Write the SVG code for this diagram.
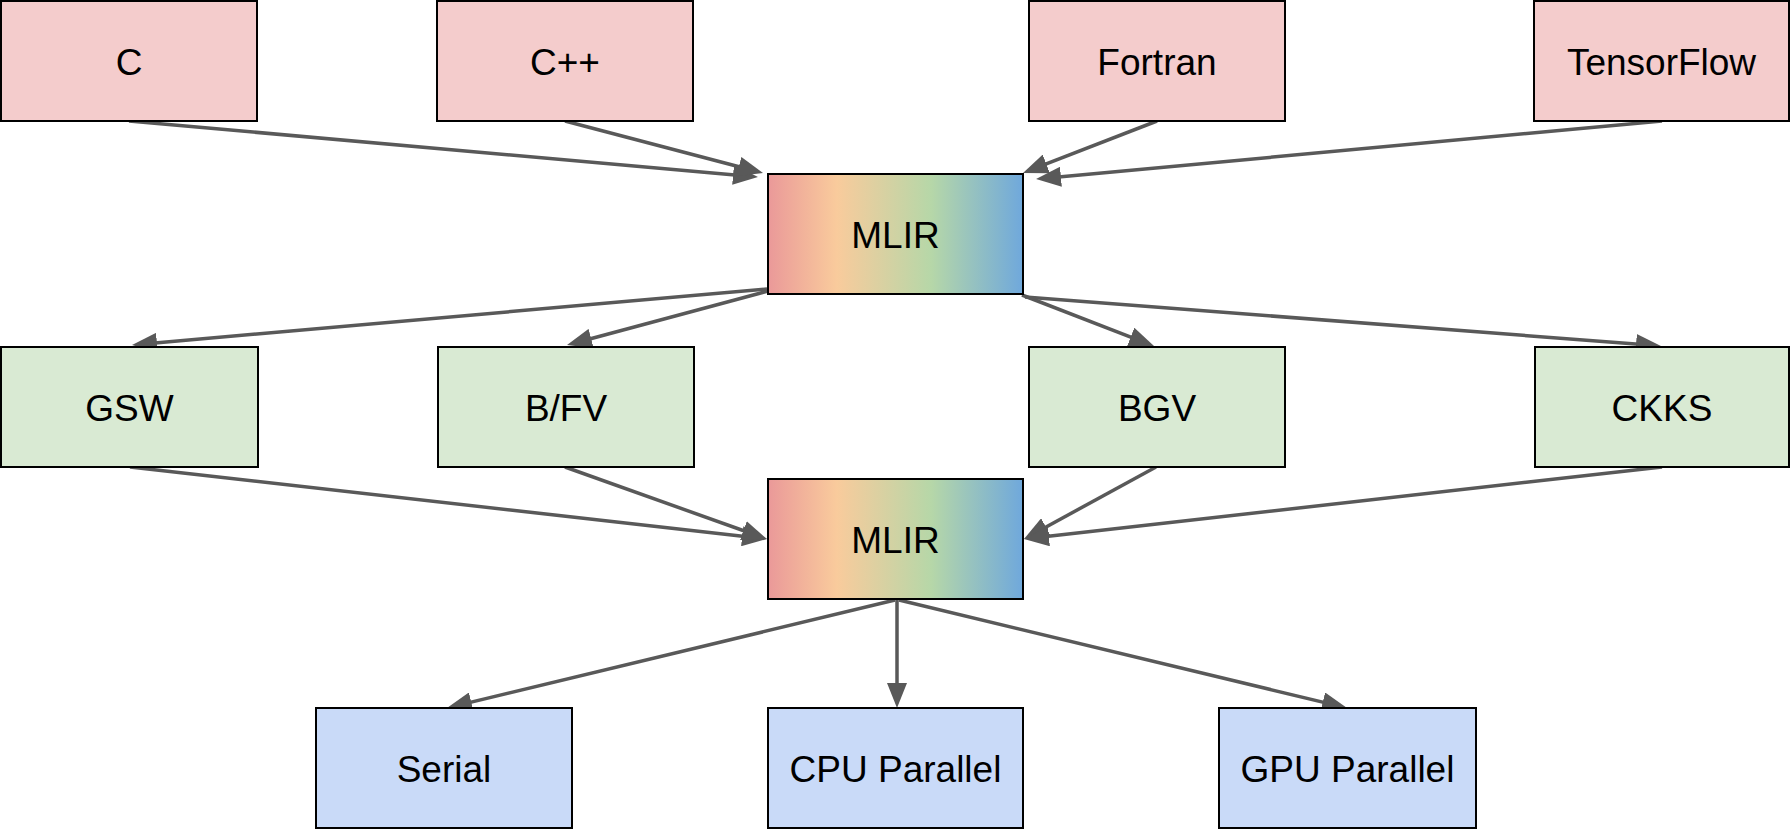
<svg xmlns="http://www.w3.org/2000/svg" width="1791" height="830" viewBox="0 0 1791 830">
<style>
.box{stroke:#000;stroke-width:2}
.src{fill:#f4cccc}
.sch{fill:#d9ead3}
.tgt{fill:#c9daf8}
.mlir{fill:url(#rainbow)}
text{font-family:"Liberation Sans",Arial,sans-serif;font-size:37px;fill:#000;text-anchor:middle}
.edge{stroke:#595959;stroke-width:3.5;fill:none;marker-end:url(#arrow)}
</style>
<defs>
<linearGradient id="rainbow" x1="0" y1="0" x2="1" y2="0">
<stop offset="0" stop-color="#ea9999"/>
<stop offset="0.27" stop-color="#f9cb9c"/>
<stop offset="0.64" stop-color="#b6d7a8"/>
<stop offset="1" stop-color="#6fa8dc"/>
</linearGradient>
<marker id="arrow" viewBox="0 0 25 20" markerWidth="25" markerHeight="20" refX="16" refY="10" orient="auto" markerUnits="userSpaceOnUse">
<path d="M0,0 L25,10 L0,20 z" fill="#595959"/>
</marker>
</defs>
<rect width="1791" height="830" fill="#fff"/>
<g id="connectors">
<line class="edge" x1="129" y1="121" x2="749" y2="176.2"/>
<line class="edge" x1="565" y1="121" x2="754.3" y2="170.7"/>
<line class="edge" x1="1157" y1="121" x2="1031.4" y2="169.7"/>
<line class="edge" x1="1662" y1="121" x2="1045" y2="178.2"/>
<line class="edge" x1="767" y1="289" x2="141" y2="344.2"/>
<line class="edge" x1="768" y1="291" x2="575.7" y2="342.7"/>
<line class="edge" x1="1022" y1="295" x2="1145.6" y2="342.8"/>
<line class="edge" x1="1025" y1="297" x2="1652" y2="345.3"/>
<line class="edge" x1="130" y1="467" x2="758.1" y2="538"/>
<line class="edge" x1="565" y1="467" x2="758.5" y2="536"/>
<line class="edge" x1="1156" y1="467" x2="1031.9" y2="534.7"/>
<line class="edge" x1="1662" y1="467" x2="1032.9" y2="538"/>
<line class="edge" x1="895" y1="600" x2="455.7" y2="705.9"/>
<line class="edge" x1="897" y1="600" x2="897" y2="699"/>
<line class="edge" x1="899" y1="600" x2="1338.3" y2="705.9"/>
</g>
<g id="node-c"><rect class="box src" x="1" y="1" width="256" height="120"/><text x="129" y="74.5">C</text></g>
<g id="node-cpp"><rect class="box src" x="437" y="1" width="256" height="120"/><text x="565" y="74.5">C++</text></g>
<g id="node-fortran"><rect class="box src" x="1029" y="1" width="256" height="120"/><text x="1157" y="74.5">Fortran</text></g>
<g id="node-tensorflow"><rect class="box src" x="1534" y="1" width="255" height="120"/><text x="1661.5" y="74.5">TensorFlow</text></g>
<g id="node-mlir1"><rect class="box mlir" x="768" y="174" width="255" height="120"/><text x="895.5" y="247.5">MLIR</text></g>
<g id="node-gsw"><rect class="box sch" x="1" y="347" width="257" height="120"/><text x="129.5" y="420.5">GSW</text></g>
<g id="node-bfv"><rect class="box sch" x="438" y="347" width="256" height="120"/><text x="566" y="420.5">B/FV</text></g>
<g id="node-bgv"><rect class="box sch" x="1029" y="347" width="256" height="120"/><text x="1157" y="420.5">BGV</text></g>
<g id="node-ckks"><rect class="box sch" x="1535" y="347" width="254" height="120"/><text x="1662" y="420.5">CKKS</text></g>
<g id="node-mlir2"><rect class="box mlir" x="768" y="479" width="255" height="120"/><text x="895.5" y="552.5">MLIR</text></g>
<g id="node-serial"><rect class="box tgt" x="316" y="708" width="256" height="120"/><text x="444" y="781.5">Serial</text></g>
<g id="node-cpu"><rect class="box tgt" x="768" y="708" width="255" height="120"/><text x="895.5" y="781.5">CPU Parallel</text></g>
<g id="node-gpu"><rect class="box tgt" x="1219" y="708" width="257" height="120"/><text x="1347.5" y="781.5">GPU Parallel</text></g>
</svg>
